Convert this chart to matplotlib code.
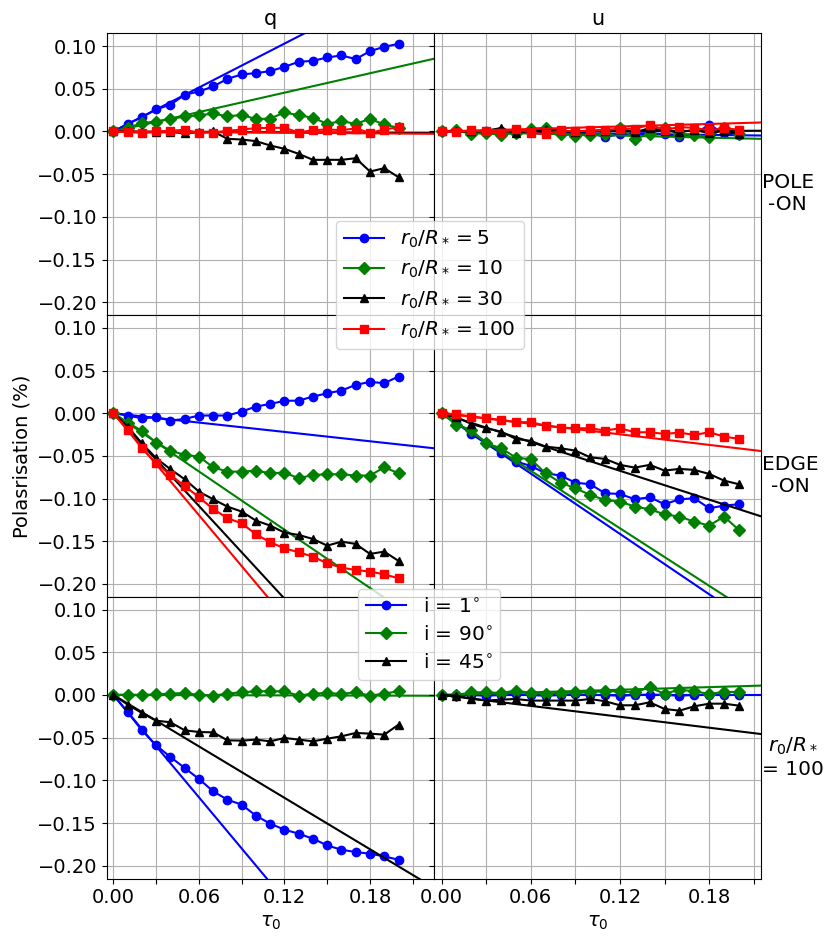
import numpy as np
import matplotlib
matplotlib.use('Agg')
import matplotlib.pyplot as plt

plt.rcParams['font.family'] = ['DejaVu Sans']
plt.rcParams['font.size'] = 14

tau = [0.00, 0.01, 0.02, 0.03, 0.04, 0.05, 0.06, 0.07, 0.08, 0.09, 0.10,
       0.11, 0.12, 0.13, 0.14, 0.15, 0.16, 0.17, 0.18, 0.19, 0.20]

# ---- POLE-ON, q ----
pole_q_r5 = [0, 0.009, 0.0168, 0.026, 0.0313, 0.0430, 0.0469, 0.0527, 0.0617, 0.0668, 0.0684,
             0.0707, 0.0758, 0.0816, 0.0828, 0.0867, 0.0891, 0.0848, 0.0941, 0.0992, 0.1027]
pole_q_r10 = [0, 0.0043, 0.0098, 0.0117, 0.0145, 0.0176, 0.0188, 0.0211, 0.0176, 0.0195, 0.0145,
              0.0152, 0.0223, 0.0191, 0.0160, 0.0090, 0.0121, 0.0090, 0.0148, 0.0082, 0.0043]
pole_q_r30 = [0, 0, -0.0008, -0.001, -0.0008, -0.002, -0.001, 0, -0.0086, -0.0094, -0.0113,
              -0.0164, -0.0203, -0.0262, -0.0332, -0.0332, -0.0332, -0.0313, -0.0469, -0.0430, -0.0535]
pole_q_r100 = [0, -0.0008, -0.0016, 0, 0.0008, 0.002, -0.0016, -0.0012, 0.0008, 0.0023, 0.0039,
               0.0043, 0.0043, -0.0012, 0.0016, 0.0023, 0.0016, 0.0035, -0.0016, 0.0023, 0.0051]
# ---- POLE-ON, u ----
pole_u_r5 = [0, 0, 0.0005, 0.001, 0, -0.001, 0, 0.001, -0.001, -0.002, -0.002,
             -0.0066, -0.003, -0.002, -0.002, -0.003, -0.0059, -0.003, 0.0078, -0.002, -0.004]
pole_u_r10 = [0, 0.0012, -0.0027, -0.002, -0.0039, -0.0016, 0.0031, 0.0043, -0.0027, -0.0047, -0.0039,
              -0.0027, 0.0043, -0.0086, -0.0027, 0.0043, -0.0027, -0.0039, -0.0066, 0.0043, -0.0027]
pole_u_r30 = [0, 0.001, 0, 0.001, 0.004, -0.002, 0.001, 0.003, 0.002, -0.001, 0.001,
              0.0, 0.003, -0.001, 0.004, 0.001, -0.001, 0.002, -0.002, 0.001, -0.003]
pole_u_r100 = [0, -0.0008, 0.0012, 0, -0.0016, 0.0031, -0.0012, -0.0035, 0.0012, 0, 0.0012,
               0.002, 0.0031, 0.0031, 0.0078, 0.002, 0.0051, 0.0043, 0.0012, 0.0039, 0.002]
# ---- EDGE-ON, q ----
edge_q_r5 = [0, -0.0027, -0.0059, -0.0047, -0.0086, -0.0066, -0.0027, -0.0027, -0.0027, 0.002, 0.0078,
             0.0109, 0.0145, 0.0148, 0.0195, 0.0234, 0.0266, 0.0332, 0.0367, 0.0352, 0.043]
edge_q_r10 = [0, -0.0109, -0.0207, -0.0344, -0.0438, -0.0488, -0.0508, -0.0633, -0.0684, -0.0684, -0.0672,
              -0.0703, -0.0695, -0.0762, -0.0723, -0.0715, -0.0715, -0.0730, -0.0730, -0.0633, -0.0703]
edge_q_r30 = [0, -0.0156, -0.0352, -0.0527, -0.0656, -0.0773, -0.0918, -0.1008, -0.1094, -0.1152, -0.1258,
              -0.1316, -0.1398, -0.1426, -0.1473, -0.1551, -0.1504, -0.1531, -0.1648, -0.1621, -0.1730]
edge_q_r100 = [0, -0.0195, -0.041, -0.0586, -0.0723, -0.0852, -0.0984, -0.1121, -0.1230, -0.1289, -0.1418,
               -0.1512, -0.1582, -0.1629, -0.1680, -0.1758, -0.1809, -0.1836, -0.1855, -0.1887, -0.1934]
# ---- EDGE-ON, u ----
edge_u_r5 = [0, -0.0105, -0.0246, -0.0352, -0.0461, -0.0566, -0.0617, -0.0703, -0.0730, -0.0813, -0.0832,
             -0.0938, -0.0945, -0.1008, -0.0984, -0.1066, -0.1008, -0.0996, -0.1113, -0.1082, -0.1066]
edge_u_r10 = [0, -0.0137, -0.0195, -0.0352, -0.0410, -0.0520, -0.0539, -0.0703, -0.0813, -0.0879, -0.0957,
              -0.1016, -0.1035, -0.1094, -0.1125, -0.1184, -0.1211, -0.1270, -0.1316, -0.1211, -0.1367]
edge_u_r30 = [0, -0.0047, -0.0125, -0.0176, -0.0215, -0.0301, -0.0324, -0.0391, -0.0410, -0.0438, -0.0516,
              -0.0535, -0.0605, -0.0637, -0.0605, -0.0672, -0.0652, -0.0664, -0.0711, -0.0789, -0.0832]
edge_u_r100 = [0, -0.0012, -0.0039, -0.0059, -0.0078, -0.0105, -0.0105, -0.0145, -0.0168, -0.0176, -0.0176,
               -0.0203, -0.0176, -0.0223, -0.0223, -0.0242, -0.0227, -0.0254, -0.0223, -0.0273, -0.0301]
# ---- r0/R* = 100, inclinations, q ----
inc_q_i1 = [0, -0.0203, -0.0414, -0.0590, -0.0727, -0.0855, -0.0984, -0.1129, -0.1227, -0.1285, -0.1414,
            -0.1508, -0.1578, -0.1625, -0.1684, -0.1762, -0.1813, -0.1840, -0.1859, -0.1891, -0.1930]
inc_q_i90 = [0, 0.0004, 0, 0.0008, 0.0016, 0.0023, 0, -0.0008, 0.0016, 0.0031, 0.0043,
             0.0043, 0.0043, -0.0008, 0.0016, 0.0023, 0.0012, 0.0031, -0.0008, 0.0016, 0.0043]
inc_q_i45 = [0, -0.0113, -0.0211, -0.0301, -0.0320, -0.0414, -0.0434, -0.0438, -0.0531, -0.0535, -0.0523,
             -0.0543, -0.0504, -0.0523, -0.0543, -0.0512, -0.0484, -0.0445, -0.0453, -0.0465, -0.0348]
# ---- r0/R* = 100, inclinations, u ----
inc_u_i1 = [0, 0, 0, -0.001, 0, 0.001, 0, -0.001, 0, 0.001, 0,
            0, -0.001, 0, 0.0004, 0, -0.0008, 0, 0, 0, 0]
inc_u_i90 = [0, 0, 0.0031, 0.0031, 0.0023, 0.0051, 0.0023, 0.0016, 0.0023, 0.0031, 0.0035,
             0.0043, 0.0043, 0.0031, 0.009, 0.0012, 0.0063, 0.0043, 0.0012, 0.0035, 0.0035]
inc_u_i45 = [0, -0.0008, -0.0043, -0.0066, -0.0055, -0.0047, -0.0066, -0.0066, -0.0066, -0.0066, -0.0047,
             -0.0074, -0.0121, -0.0121, -0.0086, -0.0164, -0.0184, -0.0133, -0.0102, -0.0102, -0.0125]

# linear fit slopes (polarisation per unit tau)
fit_pole_q = [0.858, 0.379, -0.008, -0.012]
fit_pole_u = [-0.022, -0.040, 0.004, 0.049]
fit_edge_q = [-0.1825, -1.137, -1.81, -1.99]
fit_edge_u = [-1.178, -1.123, -0.562, -0.206]
fit_inc_q = [-1.998, -0.004, -1.004]
fit_inc_u = [0.0, 0.051, -0.213]

r_labels = [r'$r_0/R_* = 5$', r'$r_0/R_* = 10$', r'$r_0/R_* = 30$', r'$r_0/R_* = 100$']
i_labels = [r'i = 1$^{\circ}$', r'i = 90$^{\circ}$', r'i = 45$^{\circ}$']
r_colors = ['blue', 'green', 'black', 'red']
r_markers = ['o', 'D', '^', 's']
i_colors = ['blue', 'green', 'black']
i_markers = ['o', 'D', '^']

col_titles = ['q', 'u']
row_labels = ['POLE\n-ON', 'EDGE\n-ON', '$r_0/R_*$\n= 100']

panels = [
    [([pole_q_r5, pole_q_r10, pole_q_r30, pole_q_r100], fit_pole_q),
     ([pole_u_r5, pole_u_r10, pole_u_r30, pole_u_r100], fit_pole_u)],
    [([edge_q_r5, edge_q_r10, edge_q_r30, edge_q_r100], fit_edge_q),
     ([edge_u_r5, edge_u_r10, edge_u_r30, edge_u_r100], fit_edge_u)],
    [([inc_q_i1, inc_q_i90, inc_q_i45], fit_inc_q),
     ([inc_u_i1, inc_u_i90, inc_u_i45], fit_inc_u)],
]

fig, axes = plt.subplots(3, 2, figsize=(8.31, 9.41), dpi=100)
fig.subplots_adjust(left=0.1284, right=0.9158, top=0.9646, bottom=0.0664,
                    hspace=0, wspace=0)

xlims = [(-0.0047, 0.2248), (-0.0052, 0.2149)]
x_fit = np.array([0.0, 0.3])
tick_pos = [0.00, 0.03, 0.06, 0.09, 0.12, 0.15, 0.18, 0.21]
tick_lab = ['0.00', '', '0.06', '', '0.12', '', '0.18', '']

handles_r = []
handles_i = []
for r in range(3):
    for c in range(2):
        ax = axes[r, c]
        series, fits = panels[r][c]
        if r < 2:
            cols, mks, labs = r_colors, r_markers, r_labels
        else:
            cols, mks, labs = i_colors, i_markers, i_labels
        for k, ys in enumerate(series):
            ln, = ax.plot(tau, ys, color=cols[k], marker=mks[k], markersize=6,
                          linewidth=1.5, label=labs[k])
            ax.plot(x_fit, fits[k] * x_fit, color=cols[k], linewidth=1.5)
            if r == 0 and c == 0:
                handles_r.append(ln)
            if r == 2 and c == 0:
                handles_i.append(ln)
        ax.set_xlim(*xlims[c])
        ax.set_ylim(-0.215, 0.115)
        ax.set_yticks([-0.20, -0.15, -0.10, -0.05, 0.00, 0.05, 0.10])
        ax.set_xticks(tick_pos)
        if r == 2:
            ax.set_xticklabels(tick_lab)
            ax.set_xlabel(r'$\tau_0$')
        else:
            ax.set_xticklabels([])
        if c == 1:
            ax.set_yticklabels([])
        ax.grid(True, color='#b0b0b0', linewidth=0.8)
        if r == 0:
            ax.set_title(col_titles[c], fontsize=15)
        if c == 1:
            ax.text(1.002, 0.43, row_labels[r], transform=ax.transAxes,
                    ha='left', va='center', ma='center', fontsize=14.5)

axes[1, 0].set_ylabel('Polasrisation (%)')

fig.legend(handles=handles_r, labels=r_labels, loc='upper left',
           bbox_to_anchor=(0.404, 0.7655), borderaxespad=0, fontsize=14.5,
           labelspacing=0.45)
fig.legend(handles=handles_i, labels=i_labels, loc='upper left',
           bbox_to_anchor=(0.431, 0.374), borderaxespad=0, fontsize=14.5,
           labelspacing=0.45)

fig.savefig('out.png', dpi=100)
